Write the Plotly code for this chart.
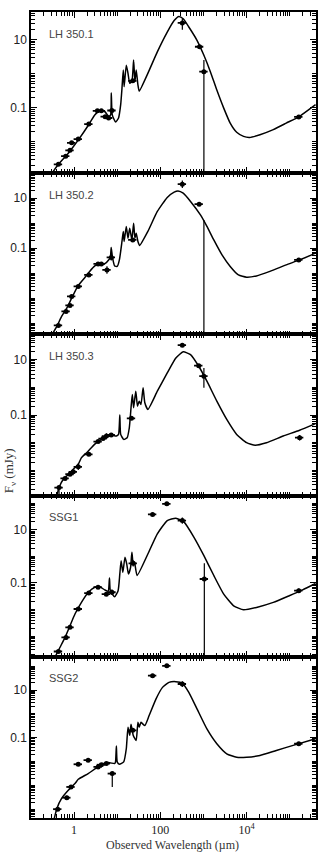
import numpy as np
import plotly.graph_objects as go
from plotly.subplots import make_subplots

# ---------------- data (log10 wavelength [um], log10 flux [mJy]) ----------------
panel_names = ["LH 350.1", "LH 350.2", "LH 350.3", "SSG1", "SSG2"]

# model curves
m1_x = [-0.517, -0.364, -0.172, -0.042, 0.111, 0.326, 0.479, 0.594, 0.709, 0.801, 0.847, 0.862, 0.885, 0.962,
        1.03, 1.08, 1.11, 1.14, 1.16, 1.21, 1.25, 1.29, 1.34, 1.38, 1.41, 1.44, 1.48, 1.51, 1.71, 1.93, 2.16,
        2.32, 2.43, 2.53, 2.66, 2.85, 3.01, 3.16, 3.31, 3.47, 3.62, 3.77, 3.93, 4.07, 4.31, 4.62, 4.92, 5.23, 5.60]
m1_y = [-2.93, -2.66, -2.39, -2.18, -1.92, -1.52, -1.21, -1.09, -1.11, -1.25, -1.21, -0.57, -1.21, -1.42,
        -1.30, -0.91, -0.43, 0.11, -0.38, 0.25, 0.01, -0.28, -0.23, 0.40, -0.23, 0.11, -0.33, -0.51, 0.01, 0.64, 1.22,
        1.56, 1.68, 1.61, 1.37, 0.98, 0.54, 0.06, -0.48, -1.01, -1.45, -1.72, -1.84, -1.87, -1.79, -1.64, -1.45, -1.25, -0.91]

m2_x = [-0.517, -0.40, -0.29, -0.17, -0.057, 0.096, 0.25, 0.36, 0.48, 0.59, 0.67, 0.73, 0.80, 0.84, 0.86, 0.89,
        0.94, 1.00, 1.05, 1.11, 1.14, 1.16, 1.21, 1.25, 1.29, 1.34, 1.38, 1.41, 1.44, 1.48, 1.52, 1.71, 1.93, 2.16,
        2.32, 2.41, 2.53, 2.70, 2.93, 3.08, 3.24, 3.43, 3.62, 3.81, 4.00, 4.23, 4.54, 4.92, 5.23, 5.60]
m2_y = [-4.47, -4.13, -3.73, -3.40, -3.00, -2.49, -2.17, -1.93, -1.71, -1.60, -1.64, -1.60, -1.47, -1.37, -0.97, -1.37,
        -1.71, -1.73, -1.47, -0.73, -0.33, -0.73, -0.13, -0.60, -0.20, -0.67, 0.00, -0.60, -0.40, -0.73, -0.89, -0.33, 0.47, 1.03,
        1.24, 1.29, 1.20, 0.87, 0.33, -0.13, -0.67, -1.27, -1.73, -2.07, -2.16, -2.11, -1.93, -1.67, -1.47, -1.20]

m3_x = [-0.40, -0.35, -0.25, -0.13, -0.02, 0.096, 0.17, 0.29, 0.40, 0.52, 0.63, 0.75, 0.86, 0.98, 1.03, 1.06, 1.08,
        1.15, 1.23, 1.28, 1.32, 1.35, 1.38, 1.43, 1.47, 1.51, 1.55, 1.60, 1.64, 1.71, 1.93, 2.16, 2.36, 2.53, 2.70,
        2.89, 3.08, 3.31, 3.54, 3.77, 4.00, 4.20, 4.46, 4.85, 5.23, 5.60]
m3_y = [-3.92, -3.62, -3.32, -3.14, -2.96, -2.78, -2.54, -2.36, -2.18, -2.00, -1.88, -1.76, -1.72, -1.76, -1.70, -1.00, -1.70,
        -1.88, -1.82, -1.46, -0.74, -0.26, -0.74, -0.14, -0.68, -0.50, -0.62, -0.02, -0.56, -0.80, -0.14, 0.52, 1.06, 1.28, 1.18,
        0.76, 0.22, -0.50, -1.16, -1.70, -2.00, -2.09, -2.00, -1.76, -1.55, -1.31]

m4_x = [-0.44, -0.33, -0.21, -0.096, 0.02, 0.17, 0.33, 0.48, 0.59, 0.71, 0.79, 0.82, 0.84, 0.94, 1.02, 1.06, 1.09,
        1.13, 1.18, 1.22, 1.26, 1.31, 1.34, 1.37, 1.40, 1.46, 1.71, 1.93, 2.16, 2.36, 2.55, 2.78, 3.01, 3.24, 3.47,
        3.70, 3.93, 4.23, 4.62, 4.99, 5.30, 5.60]
m4_y = [-3.78, -3.43, -3.05, -2.61, -2.17, -1.73, -1.35, -1.16, -1.14, -1.26, -1.31, -0.81, -1.29, -1.52, -1.29, -0.66, -0.16,
        -0.60, -0.03, -0.28, -0.66, -0.41, 0.16, -0.28, -0.22, -0.72, 0.09, 0.85, 1.35, 1.44, 1.29, 0.72, 0.03, -0.72, -1.42,
        -1.86, -2.01, -1.92, -1.73, -1.48, -1.26, -1.02]

m5_x = [-0.46, -0.40, -0.29, -0.13, 0.02, 0.096, 0.326, 0.556, 0.79, 0.94, 0.96, 0.98, 1.00, 1.05, 1.15, 1.21, 1.25,
        1.29, 1.32, 1.37, 1.41, 1.44, 1.48, 1.51, 1.55, 1.59, 1.64, 1.74, 1.90, 2.05, 2.20, 2.36, 2.51, 2.66, 2.85,
        3.08, 3.31, 3.54, 3.77, 4.00, 4.31, 4.69, 5.08, 5.60]
m5_y = [-4.38, -3.96, -3.54, -3.19, -2.92, -2.74, -2.50, -2.22, -2.04, -2.08, -2.01, -1.35, -2.01, -2.11, -2.01, -1.46, -0.56,
        -0.90, -0.43, -0.90, -1.04, -1.11, -0.35, -0.56, -0.35, -0.42, -0.49, -0.07, 0.63, 1.11, 1.32, 1.35, 1.29, 0.90, 0.21,
        -0.63, -1.25, -1.67, -1.82, -1.82, -1.74, -1.53, -1.32, -1.04]

# photometry: log wavelength, log flux, error up (dex), error down (dex)
d1_x = [-0.364, -0.195, -0.096, -0.057, 0.096, 0.341, 0.540, 0.632, 0.720, 0.800, 0.877, 1.36, 2.51, 2.91, 3.01, 5.21]
d1_y = [-2.66, -2.42, -2.25, -2.03, -1.92, -1.48, -1.09, -1.09, -1.26, -1.30, -1.08, -0.21, 1.49, 0.79, 0.06, -1.27]
d1_eu = [0, 0, 0, 0, 0, 0, 0, 0, 0, 0, 0, 0, 0.12, 0, 0.34, 0]
d1_ed = [0, 0, 0, 0, 0, 0, 0, 0, 0, 0, 0, 0, 0.20, 0, 4.0, 0]

d2_x = [-0.364, -0.187, -0.096, -0.057, 0.096, 0.341, 0.556, 0.632, 0.762, 0.862, 1.36, 2.51, 2.90, 5.21]
d2_y = [-4.09, -3.53, -3.29, -2.93, -2.53, -2.07, -1.63, -1.63, -1.87, -1.37, -0.67, 1.56, 0.76, -1.47]
d2_eu = [0, 0, 0, 0, 0, 0, 0, 0, 0.15, 0.12, 0, 0.15, 0, 0]
d2_ed = [0, 0, 0, 0, 0, 0, 0, 0, 0.15, 0.12, 0, 0.15, 0, 0]
# bare error bar (no detected point)
l2_x = [3.01]
l2_y = [0.13]
l2_ed = [5.0]

d3_x = [-0.35, -0.21, -0.096, -0.02, 0.096, 0.341, 0.556, 0.67, 0.75, 0.86, 1.33, 2.51, 2.89, 3.01, 5.23]
d3_y = [-3.62, -3.29, -3.14, -3.05, -2.87, -2.42, -1.96, -1.85, -1.76, -1.72, -1.12, 1.52, 0.78, 0.40, -1.82]
d3_eu = [0.05, 0, 0, 0, 0.12, 0, 0, 0, 0.10, 0, 0, 0, 0, 0.30, 0.10]
d3_ed = [0.25, 0, 0, 0, 0.12, 0, 0, 0, 0.10, 0, 0, 0, 0, 0.42, 0.10]

d4_x = [-0.364, -0.187, -0.096, 0.096, 0.341, 0.556, 0.747, 0.877, 1.37, 1.82, 2.15, 2.51, 3.02, 5.21]
d4_y = [-3.58, -3.05, -2.67, -1.98, -1.38, -1.16, -1.42, -1.35, -0.26, 1.58, 1.98, 1.35, -0.85, -1.29]
d4_eu = [0, 0.10, 0, 0, 0, 0, 0, 0.10, 0.12, 0, 0, 0.12, 0.59, 0.08]
d4_ed = [0, 0.10, 0, 0, 0, 0, 0, 0.10, 0.12, 0, 0, 0.12, 4.0, 0.08]

d5_x = [-0.38, -0.17, -0.073, 0.096, 0.326, 0.556, 0.632, 0.747, 0.885, 1.36, 1.82, 2.15, 2.51, 5.21]
d5_y = [-3.99, -3.51, -3.06, -2.11, -1.94, -2.22, -2.13, -2.08, -2.50, -0.69, 1.60, 2.01, 1.25, -1.25]
d5_eu = [0, 0.08, 0, 0, 0, 0, 0, 0, 0.05, 0, 0, 0, 0.12, 0]
d5_ed = [0, 0.08, 0, 0, 0, 0, 0, 0, 0.56, 0, 0, 0, 0.12, 0]

y_ranges = [[-2.92, 1.81], [-4.45, 2.0], [-3.91, 1.91], [-3.78, 2.29], [-4.36, 2.39]]
x_range = [-1.0, 5.61]

x_labelvals = [1, 100, 1e4]
x_labeltext = ["1", "100", "10<sup>4</sup>"]
y_labelvals = [0.1, 10]
y_labeltext = ["0.1", "10"]

# ---------------- figure ----------------
models = [(m1_x, m1_y), (m2_x, m2_y), (m3_x, m3_y), (m4_x, m4_y), (m5_x, m5_y)]
datas = [(d1_x, d1_y, d1_eu, d1_ed), (d2_x, d2_y, d2_eu, d2_ed), (d3_x, d3_y, d3_eu, d3_ed),
         (d4_x, d4_y, d4_eu, d4_ed), (d5_x, d5_y, d5_eu, d5_ed)]

fig = make_subplots(rows=5, cols=1, shared_xaxes=True, vertical_spacing=0)

def minor_vals(lo, hi):
    v = []
    for e in range(lo, hi):
        for k in range(2, 10):
            v.append(k * 10.0 ** e)
    return v

def decades(lo, hi, skip):
    return [10.0 ** e for e in range(lo, hi) if 10.0 ** e not in skip]

for i in range(5):
    r = i + 1
    mx, my = models[i]
    fig.add_trace(go.Scatter(x=10 ** np.array(mx), y=10 ** np.array(my), mode="lines",
                             line=dict(color="black", width=1.5, shape="spline", smoothing=0.5),
                             showlegend=False, hoverinfo="skip"),
                  row=r, col=1)
    dx, dy, eu, ed = datas[i]
    xv = 10 ** np.array(dx)
    yv = 10 ** np.array(dy)
    up = yv * (10 ** np.array(eu) - 1)
    dn = yv * (1 - 10 ** (-np.array(ed)))
    fig.add_trace(go.Scatter(x=xv, y=yv, mode="markers",
                             marker=dict(color="black", size=5, symbol="circle"),
                             error_x=dict(type="percent", value=22, color="black", thickness=1.8, width=0),
                             error_y=dict(type="data", array=up, arrayminus=dn, symmetric=False,
                                          color="black", thickness=1.2, width=0),
                             showlegend=False), row=r, col=1)
    if i == 1:
        lx = 10 ** np.array(l2_x)
        ly = 10 ** np.array(l2_y)
        fig.add_trace(go.Scatter(x=lx, y=ly, mode="markers", marker=dict(size=0.1, color="black"),
                                 error_y=dict(type="data", array=[0], arrayminus=ly * (1 - 10 ** (-np.array(l2_ed))),
                                              symmetric=False, color="black", thickness=1.2, width=0),
                                 showlegend=False), row=r, col=1)

    axis_common = dict(showline=True, linecolor="black", linewidth=1.5, mirror="ticks",
                       ticks="inside", tickcolor="black", tickwidth=1, showgrid=False, zeroline=False)
    # labelled decades as major ticks; unlabelled decades drawn as extra (minor-style) ticks
    fig.update_yaxes(type="log", range=y_ranges[i], tickvals=y_labelvals, ticktext=y_labeltext, ticklen=6,
                     tickfont=dict(family="Liberation Sans, Arial", size=12, color="#222"),
                     minor=dict(tickvals=minor_vals(-6, 4) + decades(-6, 4, y_labelvals), ticks="inside",
                                ticklen=4, tickcolor="black", showgrid=False),
                     row=r, col=1, **axis_common)
    fig.update_xaxes(type="log", range=x_range, tickvals=x_labelvals, ticktext=x_labeltext, ticklen=6,
                     showticklabels=(r == 5),
                     tickfont=dict(family="Liberation Serif, Times New Roman", size=12, color="#222"),
                     minor=dict(tickvals=minor_vals(-1, 6) + decades(-1, 6, x_labelvals), ticks="inside",
                                ticklen=4, tickcolor="black", showgrid=False),
                     row=r, col=1, **axis_common)
    fig.add_annotation(text=panel_names[i], xref="paper", yref=f"y{'' if r == 1 else r} domain",
                       x=0.055, y=0.866, xanchor="left", yanchor="middle", showarrow=False,
                       font=dict(family="Liberation Sans, Arial", size=11, color="#444"))

fig.add_annotation(text="Observed Wavelength (\u00b5m)", xref="paper", yref="paper", x=0.498, y=0,
                   yshift=-18, xanchor="center", yanchor="top", showarrow=False,
                   font=dict(family="Liberation Serif, Times New Roman", size=12, color="#333"))
fig.add_annotation(text="F<sub>\u03bd</sub> (mJy)", xref="paper", yref="paper", x=-0.075, y=0.431,
                   xanchor="center", yanchor="middle", textangle=-90, showarrow=False,
                   font=dict(family="Liberation Serif, Times New Roman", size=13, color="#333"))

fig.update_layout(width=329, height=852, margin=dict(l=30, r=13, t=10, b=34),
                  plot_bgcolor="white", paper_bgcolor="white", showlegend=False)

fig.write_html("out.html")
